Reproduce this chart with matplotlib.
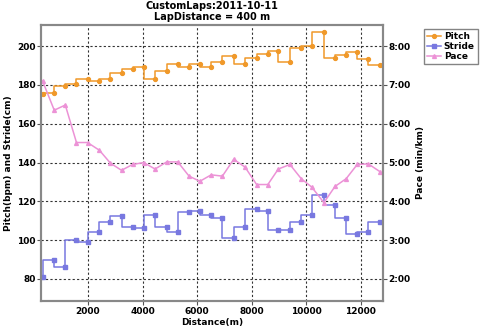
import matplotlib
matplotlib.use('Agg')
import matplotlib.pyplot as plt
from matplotlib.ticker import FuncFormatter

plt.rcParams['font.family'] = 'DejaVu Sans'
plt.rcParams['font.size'] = 6
plt.rcParams['font.weight'] = 'bold'
plt.rcParams['axes.labelweight'] = 'bold'
plt.rcParams['axes.titleweight'] = 'bold'

# cumulative distance at the end of each lap (m)
distance = [340, 765, 1170, 1580, 1985, 2420, 2825, 3230, 3635, 4040,
            4460, 4885, 5290, 5705, 6100, 6515, 6925, 7340, 7755, 8180,
            8590, 8975, 9400, 9815, 10200, 10645, 11050, 11460, 11865, 12270,
            12695]
# steps per minute
pitch = [175.1, 175.9, 179.3, 180.7, 183.3, 181.9, 183.3, 186.1, 188.3, 189.4,
         183.3, 187.1, 190.9, 189.2, 190.9, 189.2, 191.9, 195.2, 190.9, 194.0,
         195.9, 197.3, 191.7, 199.2, 200.0, 207.4, 194.0, 195.7, 196.9, 193.5,
         190.2]
# stride length (cm)
stride = [81.2, 89.5, 86.0, 100.2, 99.0, 104.1, 109.1, 112.2, 107.0, 106.2,
          113.1, 107.0, 104.1, 114.3, 115.1, 112.7, 111.4, 101.0, 107.0, 116.2,
          114.8, 105.3, 105.3, 109.1, 113.1, 123.4, 117.9, 111.4, 103.1, 104.1,
          109.1]
# pace (sec/km)
pace = [426, 381, 389, 331, 331, 319, 299, 288, 297, 300,
        290, 301, 301, 279, 271, 281, 279, 305, 293, 266,
        266, 290, 297, 275, 262, 238, 263, 275, 297, 298,
        286]

c_pitch = '#f0992a'
c_stride = '#7878e0'
c_pace = '#ec92d6'

fig = plt.figure(figsize=(4.8, 3.29), dpi=100)
ax = fig.add_axes([41/480, 1-301/329, 342/480, 276.5/329])
ax2 = ax.twinx()

l1, = ax.plot(distance, pitch, drawstyle='steps-pre', color=c_pitch, lw=1.1,
              marker='o', ms=2.8, label='Pitch')
l2, = ax.plot(distance, stride, drawstyle='steps-pre', color=c_stride, lw=1.1,
              marker='s', ms=3.3, label='Stride')
l3, = ax2.plot(distance, [p/60 for p in pace], color=c_pace, lw=1.1,
               marker='^', ms=2.8, label='Pace')

ax.set_xlim(280, 12810)
ax.set_ylim(68.6, 211.2)
ax2.set_ylim((68.6-40)/20, (211.2-40)/20)
ax.set_xticks([2000, 4000, 6000, 8000, 10000, 12000])
ax.set_yticks([80, 100, 120, 140, 160, 180, 200])
ax2.set_yticks([2, 3, 4, 5, 6, 7, 8])
ax2.yaxis.set_major_formatter(FuncFormatter(lambda v, p: '%d:%02d' % (int(v), round((v % 1)*60))))

ax.grid(True, color='#333333', ls=(0, (2, 2)), lw=0.8)
ax.set_axisbelow(True)
for a in (ax, ax2):
    for s in a.spines.values():
        s.set_color('#888888')
        s.set_linewidth(1.5)
    a.tick_params(length=3, width=0.8, color='#555555', pad=1, labelsize=6.5)

ax.set_xlabel('Distance(m)', fontsize=6.5, labelpad=2)
ax.set_ylabel('Pitch(bpm) and Stride(cm)', fontsize=6.5, labelpad=3)
ax2.set_ylabel('Pace (min/km)', fontsize=6.5, labelpad=4)
ax.set_title('CustomLaps:2011-10-11\nLapDistance = 400 m', fontsize=7, pad=3,
             linespacing=1.15)

fig.legend(handles=[l1, l2, l3], loc='upper left',
           bbox_to_anchor=(424/480, 1-29/329), fontsize=6.5,
           frameon=True, fancybox=False, edgecolor='#666666',
           handlelength=1.6, handletextpad=0.3, borderpad=0.3,
           labelspacing=0.15, borderaxespad=0)

fig.savefig('out.png', dpi=100)
